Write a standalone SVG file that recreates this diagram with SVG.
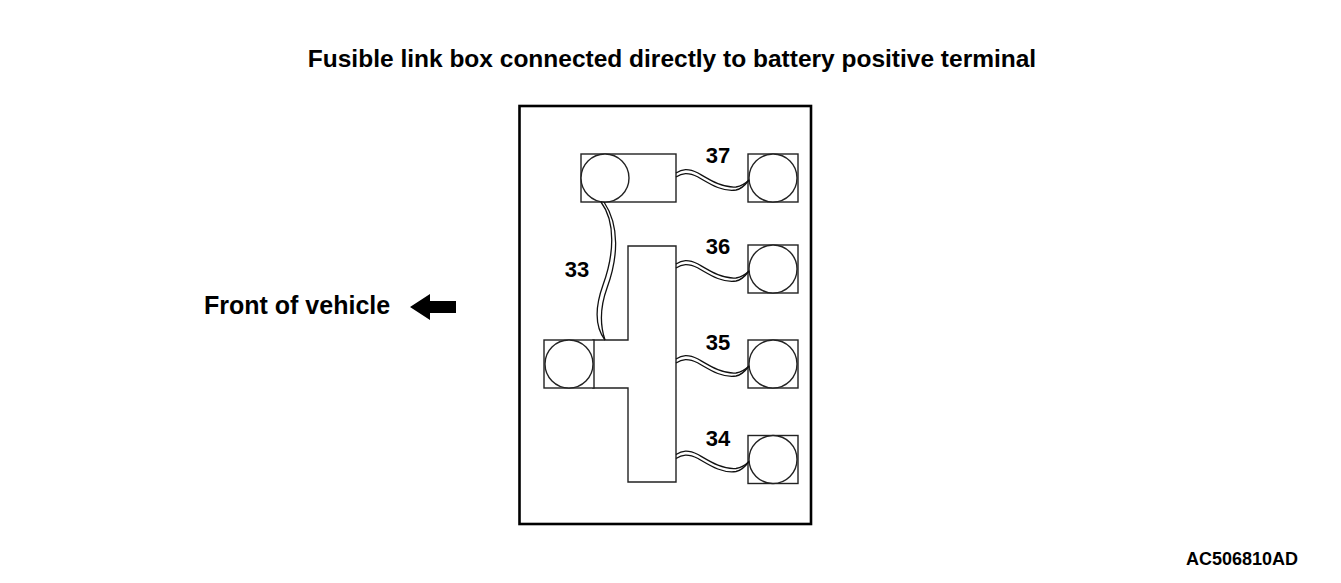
<svg xmlns="http://www.w3.org/2000/svg" width="1341" height="583" viewBox="0 0 1341 583">
<style>
.t{font-family:"Liberation Sans",Arial,sans-serif;font-weight:bold;fill:#000}
.s{fill:#fff;stroke:#222;stroke-width:1.4}
.w{fill:none;stroke:#111;stroke-width:1.3}
</style>
<defs>
<g id="term"><rect class="s" x="0" y="0" width="50" height="48"/><circle class="s" cx="25" cy="24" r="24"/></g>
<g id="wire"><path class="w" d="M0,-5 C6,-9 12,-10 22,-5 C34,2 46,10 60,9 C66,8 70,5 73,2"/><path class="w" d="M0,-1 C6,-5 12,-6 22,-1 C34,6 46,14 60,12 C66,11 70,6 73,2"/></g>
</defs>
<rect width="1341" height="583" fill="#fff"/>
<text class="t" x="672" y="67" font-size="24.5" text-anchor="middle">Fusible link box connected directly to battery positive terminal</text>
<g id="front">
<text class="t" x="204" y="314" font-size="25">Front of vehicle</text>
<polygon points="410,307 430,294 430,301 456,301 456,313 430,313 430,320" fill="#000"/>
</g>
<g id="box"><rect x="519.5" y="106" width="291.5" height="418" fill="#fff" stroke="#000" stroke-width="2.6"/></g>
<g id="main-bus">
<path class="s" d="M628,246 H676 V482 H628 V388 H593 V340 H628 Z"/>
</g>
<g id="top-block"><rect class="s" x="581" y="154" width="95" height="48"/><circle class="s" cx="605" cy="178" r="24"/></g>
<g id="left-term"><use href="#term" x="544" y="340"/></g>
<g id="t37"><use href="#term" x="748" y="154"/></g>
<g id="t36"><use href="#term" x="748" y="245"/></g>
<g id="t35"><use href="#term" x="748" y="340"/></g>
<g id="t34"><use href="#term" x="748" y="435.5"/></g>
<g id="connectors">
<use href="#wire" x="676" y="178"/>
<use href="#wire" x="676" y="269"/>
<use href="#wire" x="676" y="364"/>
<use href="#wire" x="676" y="459.5"/>
<path class="w" d="M601,202 C616,222 614,255 603,285 C594,310 596,328 605,340"/>
<path class="w" d="M604,202 C620,226 618,258 607,288 C599,310 601,328 605,340"/>
</g>
<g id="labels">
<text class="t" x="718" y="163" font-size="22" text-anchor="middle">37</text>
<text class="t" x="718" y="254" font-size="22" text-anchor="middle">36</text>
<text class="t" x="718" y="350" font-size="22" text-anchor="middle">35</text>
<text class="t" x="718" y="445.5" font-size="22" text-anchor="middle">34</text>
<text class="t" x="577" y="277" font-size="22" text-anchor="middle">33</text>
</g>
<text class="t" x="1298" y="565" font-size="18" text-anchor="end">AC506810AD</text>
</svg>
